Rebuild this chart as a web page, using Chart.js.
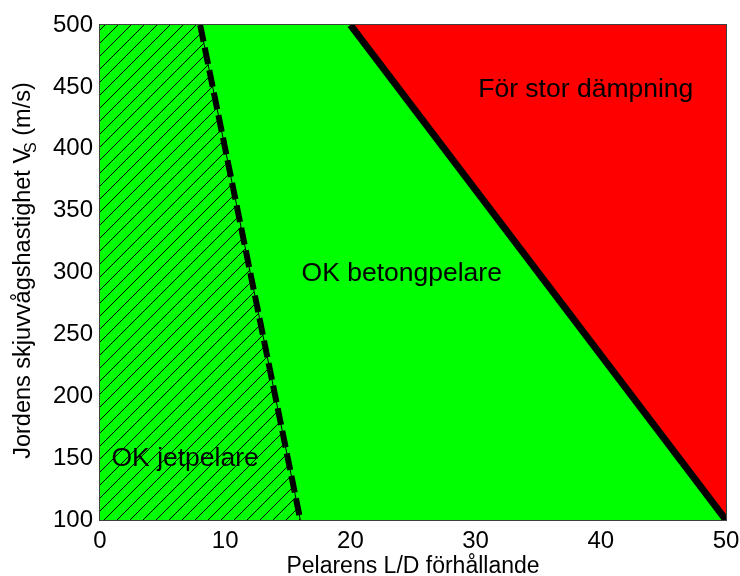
<!DOCTYPE html>
<html>
<head>
<meta charset="utf-8">
<script src="https://cdn.jsdelivr.net/npm/chart.js@4.4.1/dist/chart.umd.min.js"></script>
<style>
  html, body { margin: 0; padding: 0; background: #ffffff; }
  canvas { display: block; }
</style>
</head>
<body>
<canvas id="chart" width="740" height="576"></canvas>
<script>
// Axis ranges and ticks
const ldRange = [0, 50];
const vsRange = [100, 500];
const ldTicks = [0, 10, 20, 30, 40, 50];
const vsTicks = [100, 150, 200, 250, 300, 350, 400, 450, 500];

// Jet-pile limit (dashed): L/D at the top and bottom of the Vs range
const jetLimitLD = [8, 16];
const jetLimitVs = [500, 100];

// Excessive-damping limit (solid)
const dampLimitLD = [20, 50];
const dampLimitVs = [500, 100];

// Region names
const regionNames = ['För stor dämpning', 'OK betongpelare', 'OK jetpelare'];

const FONT = "'Liberation Sans', Arial, sans-serif";
const GREEN = '#00ff00';
const RED = '#ff0000';

// Text anchors (data coordinates of the baseline centre) for the region names
const regionAnchors = [
  { x: 38.8, y: 442 },
  { x: 24.1, y: 293 },
  { x: 6.8, y: 143.5 }
];

function pts(xs, ys) {
  return xs.map((x, i) => ({ x: x, y: ys[i] }));
}

// Whole plotting window (acceptable region)
const okArea = pts(
  [ldRange[0], ldRange[1], ldRange[1], ldRange[0]],
  [vsRange[0], vsRange[0], vsRange[1], vsRange[1]]
);
// Region left of the jet-pile limit
const jetArea = pts(
  [ldRange[0], jetLimitLD[0], jetLimitLD[1], ldRange[0]],
  [jetLimitVs[0], jetLimitVs[0], jetLimitVs[1], jetLimitVs[1]]
);
// Region right of the damping limit
const dampArea = pts(
  [dampLimitLD[0], ldRange[1], dampLimitLD[1]],
  [dampLimitVs[0], vsRange[1], dampLimitVs[1]]
);
const jetLine = pts(jetLimitLD, jetLimitVs);
const dampLine = pts(dampLimitLD, dampLimitVs);

// Diagonal hatch on green
function makeHatch() {
  const s = 13;
  const c = document.createElement('canvas');
  c.width = s; c.height = s;
  const g = c.getContext('2d');
  g.fillStyle = GREEN;
  g.fillRect(0, 0, s, s);
  g.strokeStyle = '#000000';
  g.lineWidth = 1;
  g.beginPath();
  g.moveTo(-1, s + 1); g.lineTo(s + 1, -1);
  g.moveTo(-1, 1); g.lineTo(1, -1);
  g.moveTo(s - 1, s + 1); g.lineTo(s + 1, s - 1);
  g.stroke();
  return g.createPattern(c, 'repeat');
}

const areaDefaults = {
  showLine: true,
  pointRadius: 0,
  borderWidth: 0,
  borderColor: 'rgba(0,0,0,0)',
  fill: 'shape',
  clip: 0
};

// Frame around the plotting area
const frame = {
  id: 'frame',
  afterDatasetsDraw(chart) {
    const a = chart.chartArea;
    const ctx = chart.ctx;
    ctx.save();
    ctx.strokeStyle = '#404040';
    ctx.lineWidth = 1;
    ctx.strokeRect(Math.round(a.left) - 0.5, Math.round(a.top) - 0.5,
      Math.round(a.right - a.left) + 1, Math.round(a.bottom - a.top) + 1);
    ctx.restore();
  }
};

// Region names inside the plot
const regionText = {
  id: 'regionText',
  afterDatasetsDraw(chart) {
    const ctx = chart.ctx;
    const xs = chart.scales.x, ys = chart.scales.y;
    ctx.save();
    ctx.fillStyle = '#000000';
    ctx.font = '26.5px ' + FONT;
    ctx.textAlign = 'center';
    ctx.textBaseline = 'alphabetic';
    regionNames.forEach((t, i) => {
      const p = regionAnchors[i];
      ctx.fillText(t, xs.getPixelForValue(p.x), ys.getPixelForValue(p.y));
    });
    ctx.restore();
  }
};

// Vertical axis title with subscript
const yTitle = {
  id: 'yTitle',
  afterDraw(chart) {
    const ctx = chart.ctx;
    const a = chart.chartArea;
    const main = '23.5px ' + FONT;
    const sub = '16px ' + FONT;
    const parts = [
      { t: 'Jordens skjuvvågshastighet V', f: main, dy: 0, kern: 0 },
      { t: 'S', f: sub, dy: 6, kern: -5 },
      { t: ' (m/s)', f: main, dy: 0, kern: 0 }
    ];
    ctx.save();
    let total = 0;
    parts.forEach(p => { ctx.font = p.f; p.w = ctx.measureText(p.t).width; total += p.w + p.kern; });
    ctx.translate(30, (a.top + a.bottom) / 2 - 2);
    ctx.rotate(-Math.PI / 2);
    ctx.fillStyle = '#000000';
    ctx.textAlign = 'left';
    ctx.textBaseline = 'alphabetic';
    let x = -total / 2;
    parts.forEach(p => {
      x += p.kern;
      ctx.font = p.f;
      ctx.fillText(p.t, x, p.dy);
      x += p.w;
    });
    ctx.restore();
  }
};

new Chart(document.getElementById('chart'), {
  type: 'scatter',
  data: {
    datasets: [
      Object.assign({}, areaDefaults, { data: okArea, backgroundColor: GREEN, order: 6 }),
      Object.assign({}, areaDefaults, { data: jetArea, backgroundColor: makeHatch(), order: 5 }),
      Object.assign({}, areaDefaults, { data: dampArea, backgroundColor: RED, order: 4 }),
      { data: jetLine, showLine: true, pointRadius: 0, fill: false, clip: 0,
        borderColor: '#000000', borderWidth: 1, order: 3 },
      { data: jetLine, showLine: true, pointRadius: 0, fill: false, clip: 0,
        borderColor: '#000000', borderWidth: 6, borderDash: [17, 6], borderCapStyle: 'butt', order: 2 },
      { data: dampLine, showLine: true, pointRadius: 0, fill: false, clip: 0,
        borderColor: '#000000', borderWidth: 7, borderCapStyle: 'butt', order: 1 }
    ]
  },
  options: {
    responsive: false,
    animation: false,
    events: [],
    layout: { padding: { left: 0, right: 14, top: 25, bottom: 0 } },
    plugins: { legend: { display: false }, tooltip: { enabled: false } },
    scales: {
      x: {
        type: 'linear',
        min: ldRange[0], max: ldRange[1],
        afterBuildTicks(s) { s.ticks = ldTicks.map(v => ({ value: v })); },
        afterFit(s) { s.height = 56; s.paddingLeft = 0; s.paddingRight = 0; },
        grid: { display: false, drawTicks: false },
        border: { display: false },
        ticks: { color: '#000000', font: { family: FONT, size: 24 }, padding: 7 },
        title: { display: true, text: 'Pelarens L/D förhållande', color: '#000000',
          font: { family: FONT, size: 23 }, padding: { top: 0, bottom: -4 } }
      },
      y: {
        type: 'linear',
        min: vsRange[0], max: vsRange[1],
        afterBuildTicks(s) { s.ticks = vsTicks.map(v => ({ value: v })); },
        afterFit(s) { s.width = 100; s.paddingTop = 0; s.paddingBottom = 0; },
        grid: { display: false, drawTicks: false },
        border: { display: false },
        ticks: { color: '#000000', font: { family: FONT, size: 24 }, padding: 7 }
      }
    }
  },
  plugins: [frame, regionText, yTitle]
});
</script>
</body>
</html>
